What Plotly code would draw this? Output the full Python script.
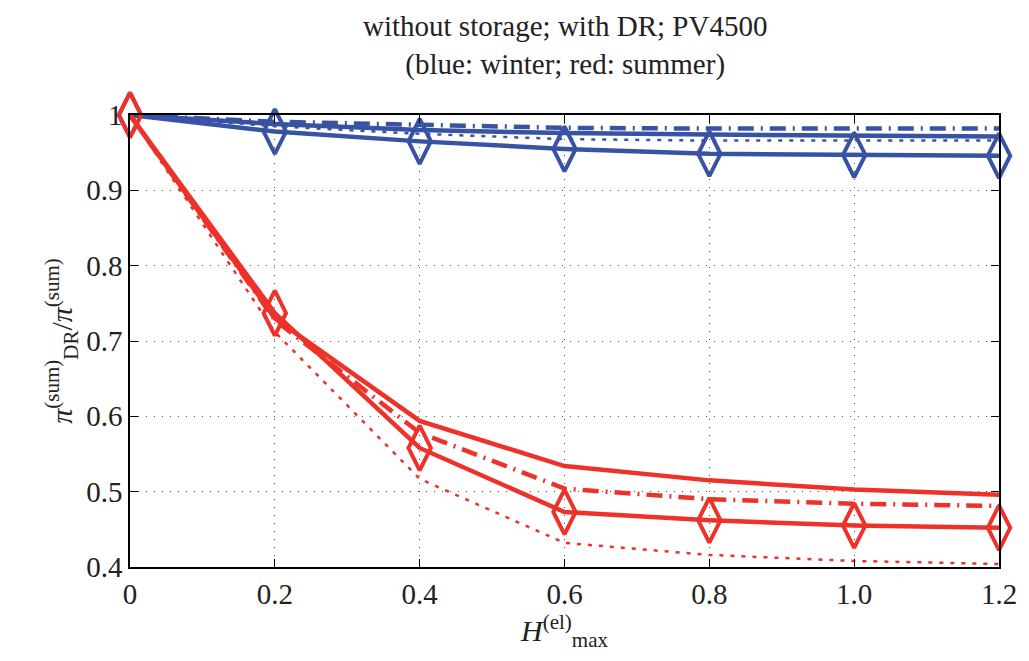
import plotly.graph_objects as go

x = [0, 0.2, 0.4, 0.6, 0.8, 1.0, 1.2]

# winter (blue)
blue_upper = [1.0, 0.988, 0.980, 0.976, 0.974, 0.972, 0.9715]
blue_dashdot = [1.0, 0.991, 0.987, 0.983, 0.982, 0.982, 0.982]
blue_dotted = [1.0, 0.985, 0.975, 0.968, 0.966, 0.966, 0.966]
blue_diamond = [1.0, 0.978, 0.965, 0.955, 0.9485, 0.947, 0.946]

# summer (red)
red_upper = [1.0, 0.730, 0.594, 0.534, 0.515, 0.503, 0.496]
red_dashdot = [1.0, 0.728, 0.578, 0.504, 0.490, 0.484, 0.481]
red_dotted = [1.0, 0.712, 0.517, 0.432, 0.416, 0.408, 0.404]
red_diamond = [1.0, 0.737, 0.558, 0.473, 0.462, 0.455, 0.452]

x_ticks = [0, 0.2, 0.4, 0.6, 0.8, 1.0, 1.2]
x_labels = ["0", "0.2", "0.4", "0.6", "0.8", "1.0", "1.2"]
y_ticks = [0.4, 0.5, 0.6, 0.7, 0.8, 0.9, 1.0]
y_labels = ["0.4", "0.5", "0.6", "0.7", "0.8", "0.9", "1"]

title_lines = ["without storage; with DR; PV4500", "(blue: winter; red: summer)"]

BLUE = "#3953a4"
RED = "#ee3129"
FONT = "Liberation Serif"

fig = go.Figure()

def add(y, color, dash, width, marker=False):
    fig.add_trace(go.Scatter(
        x=x, y=y, mode="lines+markers" if marker else "lines",
        line=dict(color=color, dash=dash, width=width),
        marker=dict(symbol="diamond-tall-open", size=32,
                    line=dict(color=color, width=4)) if marker else None,
        cliponaxis=False, showlegend=False))

for c, ys in [(BLUE, (blue_upper, blue_dashdot, blue_dotted, blue_diamond)),
              (RED, (red_upper, red_dashdot, red_dotted, red_diamond))]:
    add(ys[2], c, "4px,7px", 2.5)
    add(ys[1], c, "16px,7px,2px,7px", 4.5)
    add(ys[0], c, "solid", 4.5)
    add(ys[3], c, "solid", 4.5, marker=True)

fig.update_layout(
    width=1029, height=661,
    margin=dict(l=130, r=27, t=115, b=94),
    plot_bgcolor="white", paper_bgcolor="white",
    font=dict(family=FONT, size=28, color="#222"),
)
fig.add_annotation(text="<br>".join(title_lines), xref="paper", yref="paper",
                   x=0.5, y=1.0 + 70 / 452, xanchor="center", yanchor="middle",
                   showarrow=False, font=dict(family=FONT, size=29, color="#222"))

axis_common = dict(showline=True, linecolor="black", linewidth=1.5, mirror="ticks",
                   ticks="inside", ticklen=8, tickcolor="black",
                   showgrid=True, gridcolor="#555", griddash="1px,7px", gridwidth=1,
                   zeroline=False, tickfont=dict(family=FONT, size=29, color="#222"))
fig.update_xaxes(range=[0, 1.2], tickvals=x_ticks, ticktext=x_labels,
                 title=dict(text="<i>H</i><sup>(el)</sup><sub>max</sub>",
                            font=dict(family=FONT, size=30, color="#222"), standoff=0),
                 **axis_common)
fig.update_yaxes(range=[0.4, 1.0], tickvals=y_ticks, ticktext=y_labels,
                 title=dict(text="<i>π</i><sup>(sum)</sup><sub>DR</sub>/<i>π</i><sup>(sum)</sup>",
                            font=dict(family=FONT, size=30, color="#222"), standoff=5),
                 **axis_common)

fig.write_html("out.html")
